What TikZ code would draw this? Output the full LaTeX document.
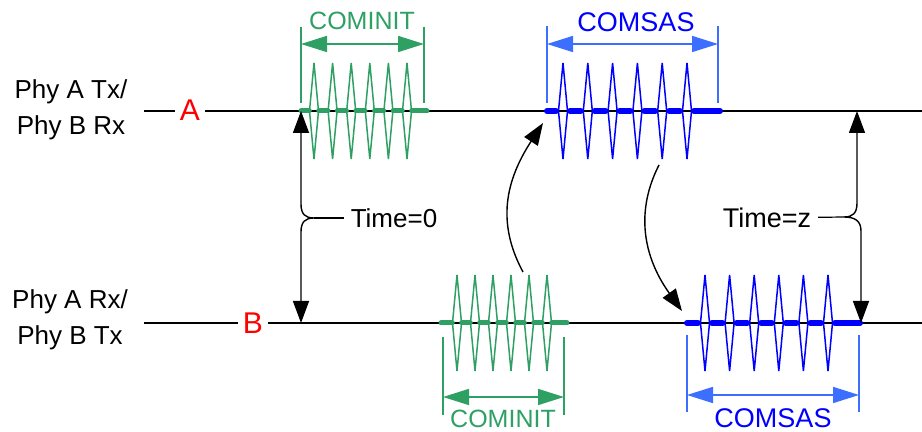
\documentclass[tikz,border=0pt]{standalone}
\usepackage{fontspec}
\setmainfont{Liberation Sans}
\usetikzlibrary{arrows.meta}

\definecolor{comgreen}{RGB}{46,160,100}
\definecolor{comblue}{RGB}{0,0,255}
\definecolor{dimblue}{RGB}{60,110,255}

\tikzset{
  greensig/.style={comgreen, line width=2.5pt},
  bluesig/.style={comblue, line width=3pt},
  phylabel/.style={font=\fontsize{13}{18}\selectfont, align=center},
  linemark/.style={red, font=\fontsize{15}{18}\selectfont, inner sep=2.5pt},
  sigtext/.style={font=\fontsize{12.5}{15}\selectfont, inner sep=1pt},
  dimarrow/.style={line width=0.8pt, {Triangle[length=13pt,width=8pt]}-{Triangle[length=13pt,width=8pt]}},
  timearrow/.style={line width=0.7pt, {Triangle[length=11pt,width=8pt]}-{Triangle[length=11pt,width=8pt]}},
  hoparrow/.style={line width=0.7pt, -{Triangle[length=11pt,width=8pt]}},
}

% burst: style, start, end, first spike, spike step, baseline, gap
\newcommand{\burst}[7]{%
  \draw[#1, line cap=round] (#2,#6) -- ({#4-#7},#6);
  \foreach \k in {1,...,5}
    \draw[#1, line cap=round] ({#4+(\k-1)*#5+#7},#6) -- ({#4+\k*#5-#7},#6);
  \draw[#1, line cap=round] ({#4+5*#5+#7},#6) -- (#3,#6);
  \foreach \k in {0,...,5}
    \draw[#1, line width=0.75pt] ({#4+\k*#5},{#6-48}) -- ({#4+\k*#5-4.5},#6)
      -- ({#4+\k*#5},{#6+48}) -- ({#4+\k*#5+4.5},#6) -- cycle;
}

% width marker: colour, left, right, top, bottom, arrow height
\newcommand{\widthmark}[6]{%
  \draw[#1, line width=0.6pt] (#2,#4) -- (#2,#5);
  \draw[#1, line width=0.6pt] (#3,#4) -- (#3,#5);
  \draw[#1, dimarrow] (#2,#6) -- (#3,#6);
}

\begin{document}
\begin{tikzpicture}[x=0.5pt, y=-0.5pt]
  \useasboundingbox (0,0) rectangle (922,432);

  % the two lanes
  \node[phylabel] (phyTop) at (71,110) {Phy A Tx/\\Phy B Rx};
  \node[phylabel] (phyBot) at (70,320) {Phy A Rx/\\Phy B Tx};
  \node[linemark] (markA) at (190,110) {A};
  \node[linemark] (markB) at (253,323) {B};

  \coordinate (a0) at (144,111);
  \coordinate (a1) at (922,111);
  \coordinate (b0) at (144,323);
  \coordinate (b1) at (922,323);
  \draw[line width=0.65pt] (a0) -- (markA.west |- a0);
  \draw[line width=0.65pt] (markA.east |- a0) -- (a1);
  \draw[line width=0.65pt] (b0) -- (markB.west |- b0);
  \draw[line width=0.65pt] (markB.east |- b0) -- (b1);

  % OOB bursts
  \burst{greensig}{301}{427}{314}{18.6}{111}{4.75}
  \burst{greensig}{441}{567}{457}{18}{323}{4.75}
  \burst{bluesig}{547}{720}{563}{24.8}{111}{7}
  \burst{bluesig}{687}{860}{705}{24.6}{323}{7}

  \widthmark{comgreen}{301}{424}{27}{103}{44}
  \widthmark{comgreen}{443}{564}{337}{415}{397}
  \widthmark{dimblue}{547}{718}{26}{103}{44}
  \widthmark{dimblue}{687}{859}{335}{412}{395}

  \node[sigtext, comgreen] (cominitTop) at (362,21) {COMINIT};
  \node[sigtext, comgreen] (cominitBot) at (503,419) {COMINIT};
  \node[sigtext, comblue, font=\fontsize{13.5}{15}\selectfont] (comsasTop) at (636,22) {COMSAS};
  \node[sigtext, comblue, font=\fontsize{13.5}{15}\selectfont] (comsasBot) at (773,418) {COMSAS};

  % timing braces
  \coordinate (t0top) at (301,111);
  \coordinate (t0bot) at (301,323);
  \coordinate (t0tip) at (314,218);
  \node[phylabel] (time0) at (394,218) {Time=0};
  \draw[timearrow] (t0top) -- (301,204) .. controls (301,214) and (305,218) .. (t0tip)
    .. controls (305,218) and (301,222) .. (301,232) -- (t0bot);
  \draw[line width=0.6pt] (t0tip) -- (time0);

  \coordinate (tztop) at (857,111);
  \coordinate (tzbot) at (861,323);
  \coordinate (tztip) at (844,217);
  \node[phylabel, font=\fontsize{13.5}{18}\selectfont] (timez) at (767,218) {Time=z};
  \draw[timearrow] (tztop) -- (857,203) .. controls (857,213) and (853,217) .. (tztip)
    .. controls (855,217) and (861,221) .. (861,231) -- (tzbot);
  \draw[line width=0.6pt] (tztip) -- (timez);

  % answer hops
  \coordinate (h1s) at (523,272);
  \coordinate (h1e) at (543,123);
  \coordinate (h2s) at (659,165);
  \coordinate (h2e) at (682,311);
  \draw[hoparrow] (h1s) .. controls (496,222) and (506,180) .. (h1e);
  \draw[hoparrow] (h2s) .. controls (636,210) and (642,255) .. (h2e);
\end{tikzpicture}
\end{document}
